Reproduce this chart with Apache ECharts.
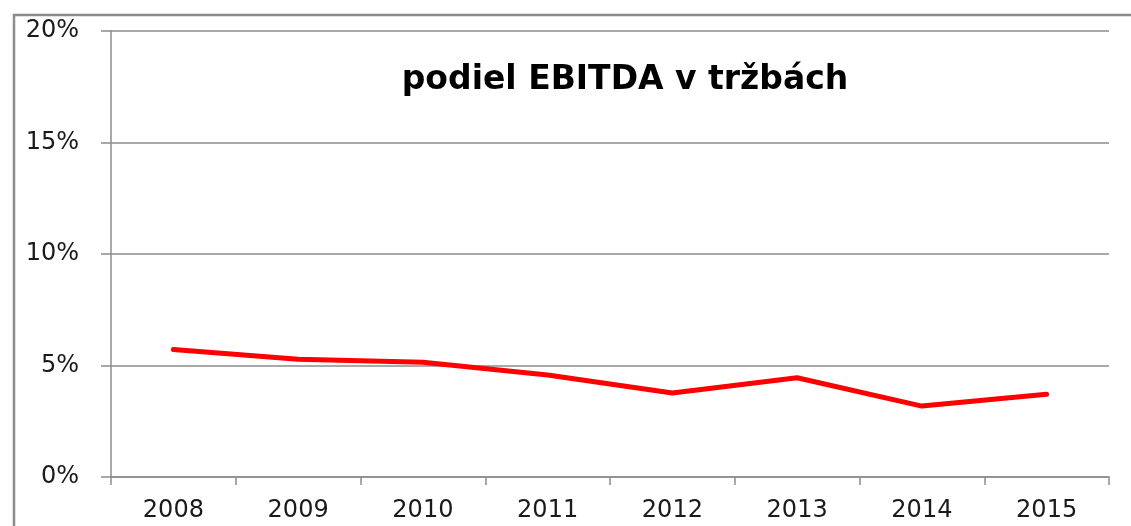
<!DOCTYPE html>
<html>
<head>
<meta charset="utf-8">
<script src="https://cdn.jsdelivr.net/npm/echarts@6/dist/echarts.min.js"></script>
<style>
  html, body { margin: 0; padding: 0; background: #fff; }
  #chart { width: 1131px; height: 526px; }
</style>
</head>
<body>
<div id="chart"></div>
<script>
// Data
const years = ["2008", "2009", "2010", "2011", "2012", "2013", "2014", "2015"];
const ebitdaShare = [5.72, 5.28, 5.15, 4.57, 3.77, 4.45, 3.18, 3.71];
const chartTitle = "podiel EBITDA v tržbách";

const chart = echarts.init(document.getElementById("chart"));

const option = {
  animation: false,
  backgroundColor: "#fff",
  title: {
    text: chartTitle,
    left: 620,
    top: 59,
    textAlign: "center",
    textStyle: { fontFamily: "DejaVu Sans", fontWeight: "bold", fontSize: 33, color: "#000" },
  },
  graphic: [
    {
      // outer frame, cut off at right and bottom
      type: "rect",
      shape: { x: 14, y: 15, width: 1200, height: 600 },
      style: { fill: "none", stroke: "#8c8c8c", lineWidth: 2.5 },
      silent: true,
    },
  ],
  grid: { left: 111, right: 22, top: 31, bottom: 49 },
  xAxis: {
    type: "category",
    data: years,
    boundaryGap: true,
    axisLine: { lineStyle: { color: "#8c8c8c", width: 1.5 } },
    axisTick: { show: true, length: 8, lineStyle: { color: "#8c8c8c", width: 1.5 } },
    axisLabel: { fontFamily: "DejaVu Sans", fontSize: 24, color: "#1a1a1a", margin: 22 },
  },
  yAxis: {
    type: "value",
    min: 0,
    max: 20,
    interval: 5,
    axisLine: { show: true, lineStyle: { color: "#8c8c8c", width: 1.5 } },
    axisTick: { show: true, length: 10, lineStyle: { color: "#8c8c8c", width: 1.5 } },
    splitLine: { lineStyle: { color: "#8c8c8c", width: 1.5 } },
    axisLabel: {
      formatter: "{value}%",
      fontFamily: "DejaVu Sans",
      fontSize: 24,
      color: "#1a1a1a",
      margin: 32,
      align: "right",
    },
  },
  series: [
    {
      type: "line",
      data: ebitdaShare,
      symbol: "none",
      lineStyle: { color: "#ff0000", width: 5, cap: "round", join: "round" },
    },
  ],
};

chart.setOption(option);
</script>
</body>
</html>
